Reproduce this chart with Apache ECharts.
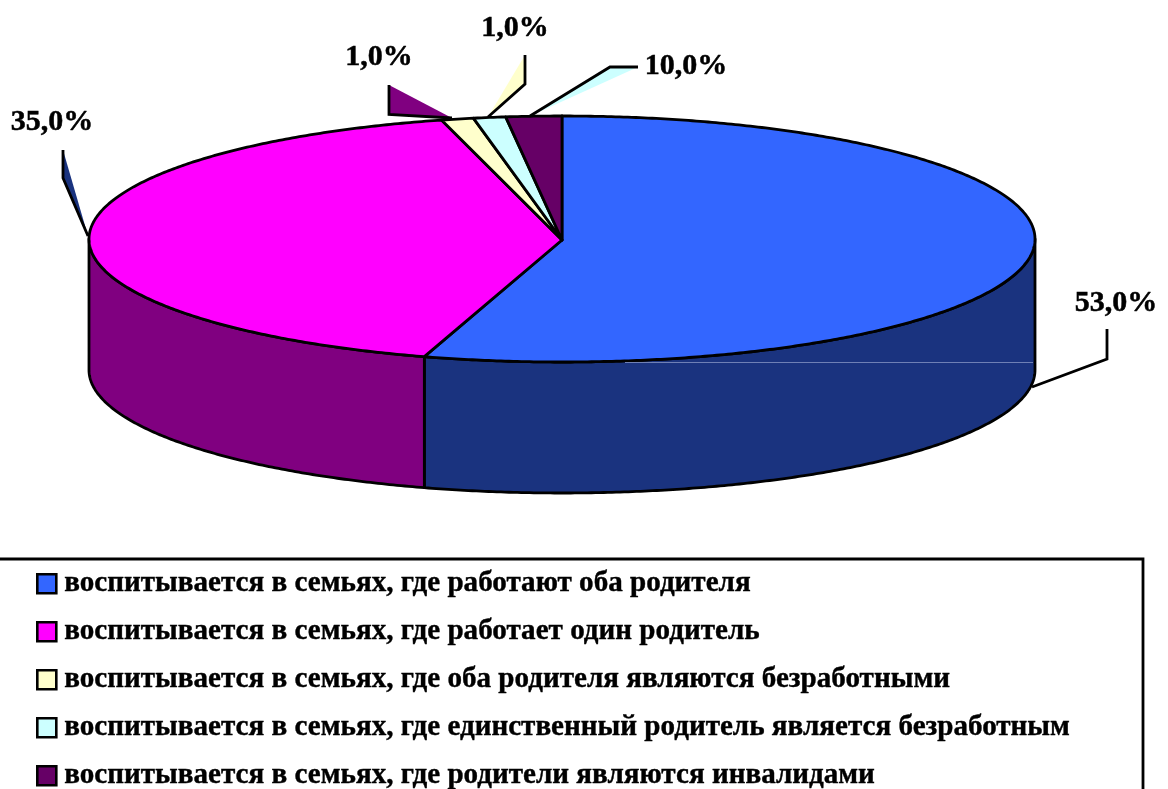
<!DOCTYPE html>
<html>
<head>
<meta charset="utf-8">
<style>
    html, body { margin: 0; padding: 0; background: #fff; }
    #chart { width: 1168px; height: 789px; }
</style>
<script src="https://cdn.jsdelivr.net/npm/echarts@6/dist/echarts.min.js"></script>
</head>
<body>
<div id="chart"></div>
<script>
var categories = [
    'воспитывается в семьях, где работают оба родителя',
    'воспитывается в семьях, где работает один родитель',
    'воспитывается в семьях, где оба родителя являются безработными',
    'воспитывается в семьях, где единственный родитель является безработным',
    'воспитывается в семьях, где родители являются инвалидами'
];
// shares as drawn in the picture, they differ from the printed labels
var sliceShares = [54.7, 41.2, 1.1, 1.1, 1.9];
var labelTexts = ['53,0%', '35,0%', '1,0%', '1,0%', '10,0%'];

var topColors = ['#3366ff', '#ff00ff', '#ffffcc', '#ccffff', '#660066'];
var wallColors = ['#1a337f', '#800080', '#ffffcc', '#ccffff', '#660066'];

// ellipse of the pie top
var cx = 562, cy = 239, rx = 473, ry = 123, depth = 131;
var lineW = 2.8;
var font = '"Liberation Serif", serif';

function rimPoint(deg, dy) {
    var a = deg * Math.PI / 180;
    return [cx + rx * Math.sin(a), cy - ry * Math.cos(a) + (dy || 0)];
}

function arcPoints(from, to, dy) {
    var pts = [];
    var n = Math.max(2, Math.ceil((to - from) * 2));
    for (var i = 0; i <= n; i++) {
        pts.push(rimPoint(from + (to - from) * i / n, dy));
    }
    return pts;
}

function renderSlice(idx) {
    return function (params, api) {
        var a0 = api.value(0) * 3.6;
        var a1 = api.value(1) * 3.6;
        var children = [];
        var w0 = Math.max(a0, 90), w1 = Math.min(a1, 270);
        if (w1 > w0) {
            var wall = arcPoints(w0, w1, 0).concat(arcPoints(w0, w1, depth).reverse());
            children.push({
                type: 'polygon',
                shape: { points: wall },
                style: { fill: wallColors[idx], stroke: '#000', lineWidth: lineW, lineJoin: 'round' }
            });
        }
        var top = [[cx, cy + 1]].concat(arcPoints(a0, a1, 0));
        children.push({
            type: 'polygon',
            shape: { points: top },
            style: { fill: topColors[idx], stroke: '#000', lineWidth: lineW, lineJoin: 'round' }
        });
        return { type: 'group', children: children };
    };
}

var series = [];
var sum = 0;
categories.forEach(function (name, i) {
    series.push({
        type: 'custom',
        name: name,
        coordinateSystem: 'none',
        silent: true,
        itemStyle: { color: topColors[i] },
        data: [[sum, sum + sliceShares[i]]],
        renderItem: renderSlice(i)
    });
    sum += sliceShares[i];
});

// callouts: label position, leader path and the colour filling it
var callouts = [
    { x: 1116, y: 303, path: [[1107, 329], [1107, 359], [1032, 387]], fill: 'none' },
    { x: 52, y: 122, path: [[63, 150], [63, 178], [88, 236]], fill: '#1a337f' },
    { x: 379, y: 57, path: [[389, 85], [389, 114.5], [452, 118]], fill: '#800080' },
    { x: 515, y: 28, path: [[525, 55], [525, 84], [488, 117]], fill: '#ffffcc' },
    { x: 686, y: 66, path: [[638, 67], [610, 67], [530, 116]], fill: '#ccffff' }
];

var graphics = [{
    type: 'rect',
    shape: { x: -4, y: 559, width: 1147, height: 240 },
    style: { fill: '#fff', stroke: '#000', lineWidth: 2.8 },
    z: -1
}, {
    type: 'line',
    shape: { x1: 625, y1: 362.5, x2: 1033, y2: 362.5 },
    style: { stroke: '#6f80b5', lineWidth: 1 },
    z: 10
}];
callouts.forEach(function (c, i) {
    if (c.fill !== 'none') {
        graphics.push({ type: 'polygon', shape: { points: c.path }, style: { fill: c.fill }, z: 4 });
    }
    graphics.push({
        type: 'polyline',
        shape: { points: c.path },
        style: { fill: 'none', stroke: '#000', lineWidth: lineW },
        z: 5
    });
    graphics.push({
        type: 'text',
        x: c.x,
        y: c.y,
        style: {
            text: labelTexts[i],
            font: 'bold 30px ' + font,
            fill: '#000',
            stroke: '#000',
            lineWidth: 0.5,
            textAlign: 'center',
            textVerticalAlign: 'middle'
        },
        z: 5
    });
});

var myChart = echarts.init(document.getElementById('chart'), null, { renderer: 'canvas' });
myChart.setOption({
    animation: false,
    backgroundColor: '#fff',
    legend: {
        orient: 'vertical',
        left: 36,
        top: 569,
        height: 320,
        padding: 0,
        itemWidth: 19,
        itemHeight: 19,
        itemGap: 18.6,
        icon: 'rect',
        selectedMode: false,
        data: categories,
        itemStyle: { borderColor: '#000', borderWidth: 2.6 },
        textStyle: {
            fontFamily: font,
            fontWeight: 'bold',
            fontSize: 29.1,
            color: '#000',
            textBorderColor: '#000',
            textBorderWidth: 0.4,
            padding: [0, 0, 0, 3]
        }
    },
    graphic: graphics,
    series: series
});
</script>
</body>
</html>
